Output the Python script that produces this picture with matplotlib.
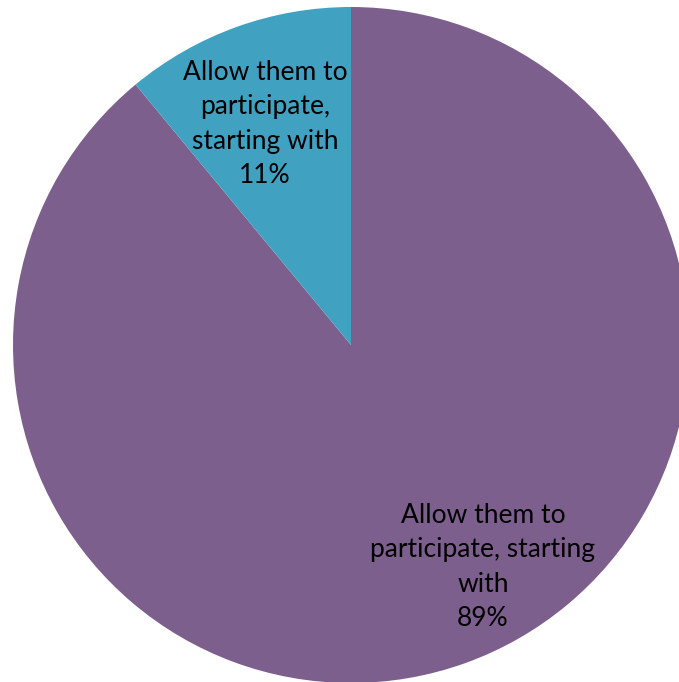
import matplotlib
matplotlib.use('Agg')
import matplotlib.pyplot as plt

categorias = ['Allow them to\nparticipate, starting\nwith', 'Allow them to\nparticipate,\nstarting with']
valores = [89, 11]
cores = ['#7D5F8E', '#41A1C1']

# posicoes dos rotulos (pixels, y para cima)
pos_rotulos = [(483, 115), (265, 558)]

fig = plt.figure(figsize=(6.79, 6.82), dpi=100)
ax = fig.add_axes([0, 0, 1, 1])

ax.pie(valores, colors=cores, startangle=90, counterclock=False,
       center=(351, 337), radius=338,
       wedgeprops=dict(linewidth=0))
ax.set_xlim(0, 679)
ax.set_ylim(0, 682)
ax.axis('off')

total = sum(valores)
for cat, v, (x, y) in zip(categorias, valores, pos_rotulos):
    ax.text(x, y, f"{cat}\n{round(v / total * 100)}%", ha='center', va='center',
            fontsize=19, family='Lato', linespacing=1.47, color='black')

plt.savefig('out.png', dpi=100)
plt.close()
